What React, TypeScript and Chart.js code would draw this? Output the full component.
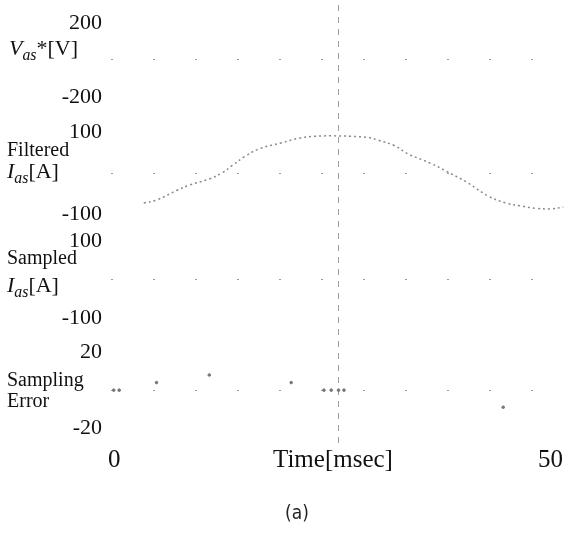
import React, { useEffect, useRef } from 'react';
import { Chart, registerables } from 'chart.js';

Chart.register(...registerables);

// ---- data ----
const timeAxisRange = [0, 50];
const timeTickValues = [0, 25, 50];
const markerTime = 25;

// Filtered Ias [A] (time in msec)
const filteredTime = [3.6, 5.0, 7.2, 8.6, 10.8, 12.3, 13.3, 14.7, 16.2, 18.7, 20.6, 22.4, 24.3, 26.3, 28.3, 29.3, 31.2, 32.6, 35.1, 36.9, 39.1, 41.5, 43.4, 45.0, 46.7, 48.4, 49.7];
const filteredIas = [-72, -65, -42, -29, -14, 2, 18, 40, 58, 73, 84, 89, 90, 89, 86, 80, 66, 47, 24, 4, -22, -56, -72, -79, -85, -86, -82];

// Sampling error (time in msec)
const errorTime = [0.3, 0.9, 5.0, 10.8, 19.8, 23.4, 24.2, 25.0, 25.6, 43.1];
const samplingError = [0, 0, 4, 8, 4, 0, 0, 0, 0, -9];

// axis ranges and labelled ticks per panel
const vasRange = [-297, 297];
const vasTicks = [-200, 200];
const filteredRange = [-124, 141];
const filteredTicks = [-100, 100];
const sampledRange = [-142, 144];
const sampledTicks = [-100, 100];
const errorRange = [-28.4, 29.5];
const errorTicks = [-20, 20];

const serif = '"Liberation Serif", "Times New Roman", serif';

function yAxis(range: number[], labels: number[]) {
  return {
    type: 'linear',
    position: 'left',
    stack: 'panels',
    stackWeight: 1,
    min: range[0],
    max: range[1],
    offset: false,
    afterBuildTicks: (s: any) => {
      s.ticks = [labels[0], 0, labels[1]].map((v) => ({ value: v }));
    },
    afterFit: (s: any) => {
      s.width = 111;
      s.paddingTop = 0;
      s.paddingBottom = 0;
    },
    ticks: {
      padding: 9,
      color: '#111',
      font: { family: serif, size: 22 },
      callback: (v: any) => (v === 0 ? '' : String(v)),
    },
    grid: {
      drawTicks: false,
      lineWidth: 1,
      color: (ctx: any) => (ctx.tick && ctx.tick.value === 0 ? '#9c9c9c' : 'rgba(0,0,0,0)'),
    },
    border: { display: false, dash: [2, 40] },
  };
}

function ChartCanvas() {
  const ref = useRef<HTMLCanvasElement | null>(null);
  useEffect(() => {
    if (!ref.current) return;
    const chart = new Chart(ref.current, {
      type: 'line',
      data: {
        datasets: [
          {
            label: 'Filtered Ias',
            data: filteredTime.map((t, i) => ({ x: t, y: filteredIas[i] })),
            yAxisID: 'yF',
            borderColor: '#8a8a8a',
            borderWidth: 1.5,
            borderDash: [2, 3],
            pointRadius: 0,
            tension: 0.4,
            fill: false,
          },
          {
            label: 'Sampling Error',
            data: errorTime.map((t, i) => ({ x: t, y: samplingError[i] })),
            yAxisID: 'yE',
            showLine: false,
            pointRadius: 1.3,
            pointBackgroundColor: '#777',
            pointBorderColor: '#777',
            borderColor: '#777',
          },
        ] as any,
      },
      options: {
        responsive: false,
        animation: false,
        devicePixelRatio: 1,
        layout: { padding: { top: 4, right: 1, left: 0, bottom: 0 } },
        plugins: { legend: { display: false }, tooltip: { enabled: false } },
        scales: {
          x: {
            type: 'linear',
            min: timeAxisRange[0],
            max: timeAxisRange[1],
            afterBuildTicks: (s: any) => {
              s.ticks = timeTickValues.map((v) => ({ value: v }));
            },
            afterFit: (s: any) => {
              s.height = 36;
              s.paddingLeft = 0;
              s.paddingRight = 0;
            },
            ticks: {
              align: 'inner',
              padding: 1,
              labelOffset: -3,
              maxRotation: 0,
              autoSkip: false,
              color: '#111',
              font: { family: serif, size: 25 },
              callback: (v: any) => (v === markerTime ? '' : String(v)),
            },
            grid: {
              drawTicks: false,
              lineWidth: 1,
              color: (ctx: any) => (ctx.tick && ctx.tick.value === markerTime ? '#a0a0a0' : 'rgba(0,0,0,0)'),
            },
            border: { display: false, dash: [6, 6] },
          },
          yE: yAxis(errorRange, errorTicks),
          yS: yAxis(sampledRange, sampledTicks),
          yF: yAxis(filteredRange, filteredTicks),
          yV: yAxis(vasRange, vasTicks),
        } as any,
      },
    } as any);
    return () => chart.destroy();
  }, []);
  return (
    <canvas
      ref={ref}
      width={571}
      height={480}
      style={{ position: 'absolute', left: 0, top: 0, width: 571, height: 480 }}
    />
  );
}

const sub: React.CSSProperties = { fontSize: '0.72em', fontStyle: 'italic', position: 'relative', top: '0.3em' };

function Lbl(props: { left: number; top: number; size: number; children: React.ReactNode; family?: string; extra?: React.CSSProperties }) {
  return (
    <div
      style={{
        position: 'absolute',
        left: props.left,
        top: props.top,
        fontSize: props.size,
        lineHeight: 1,
        fontFamily: props.family || serif,
        color: '#111',
        whiteSpace: 'nowrap',
        ...(props.extra || {}),
      }}
    >
      {props.children}
    </div>
  );
}

export default function App() {
  return (
    <div style={{ position: 'fixed', left: 0, top: 0, width: 571, height: 533, background: '#fff', overflow: 'hidden' }}>
      <ChartCanvas />
      <Lbl left={9} top={37} size={22}>
        <i>V</i>
        <span style={sub}>as</span>*[V]
      </Lbl>
      <Lbl left={7} top={139} size={20}>Filtered</Lbl>
      <Lbl left={7} top={160} size={22}>
        <i>I</i>
        <span style={sub}>as</span>[A]
      </Lbl>
      <Lbl left={7} top={247} size={20}>Sampled</Lbl>
      <Lbl left={7} top={274} size={22}>
        <i>I</i>
        <span style={sub}>as</span>[A]
      </Lbl>
      <Lbl left={7} top={369} size={20}>Sampling</Lbl>
      <Lbl left={7} top={390} size={20}>Error</Lbl>
      <Lbl left={273} top={446} size={25}>Time[msec]</Lbl>
      <Lbl left={285} top={503} size={19} family={'"DejaVu Sans", sans-serif'} extra={{ fontStretch: 'condensed', color: '#222' }}>
        (a)
      </Lbl>
    </div>
  );
}
